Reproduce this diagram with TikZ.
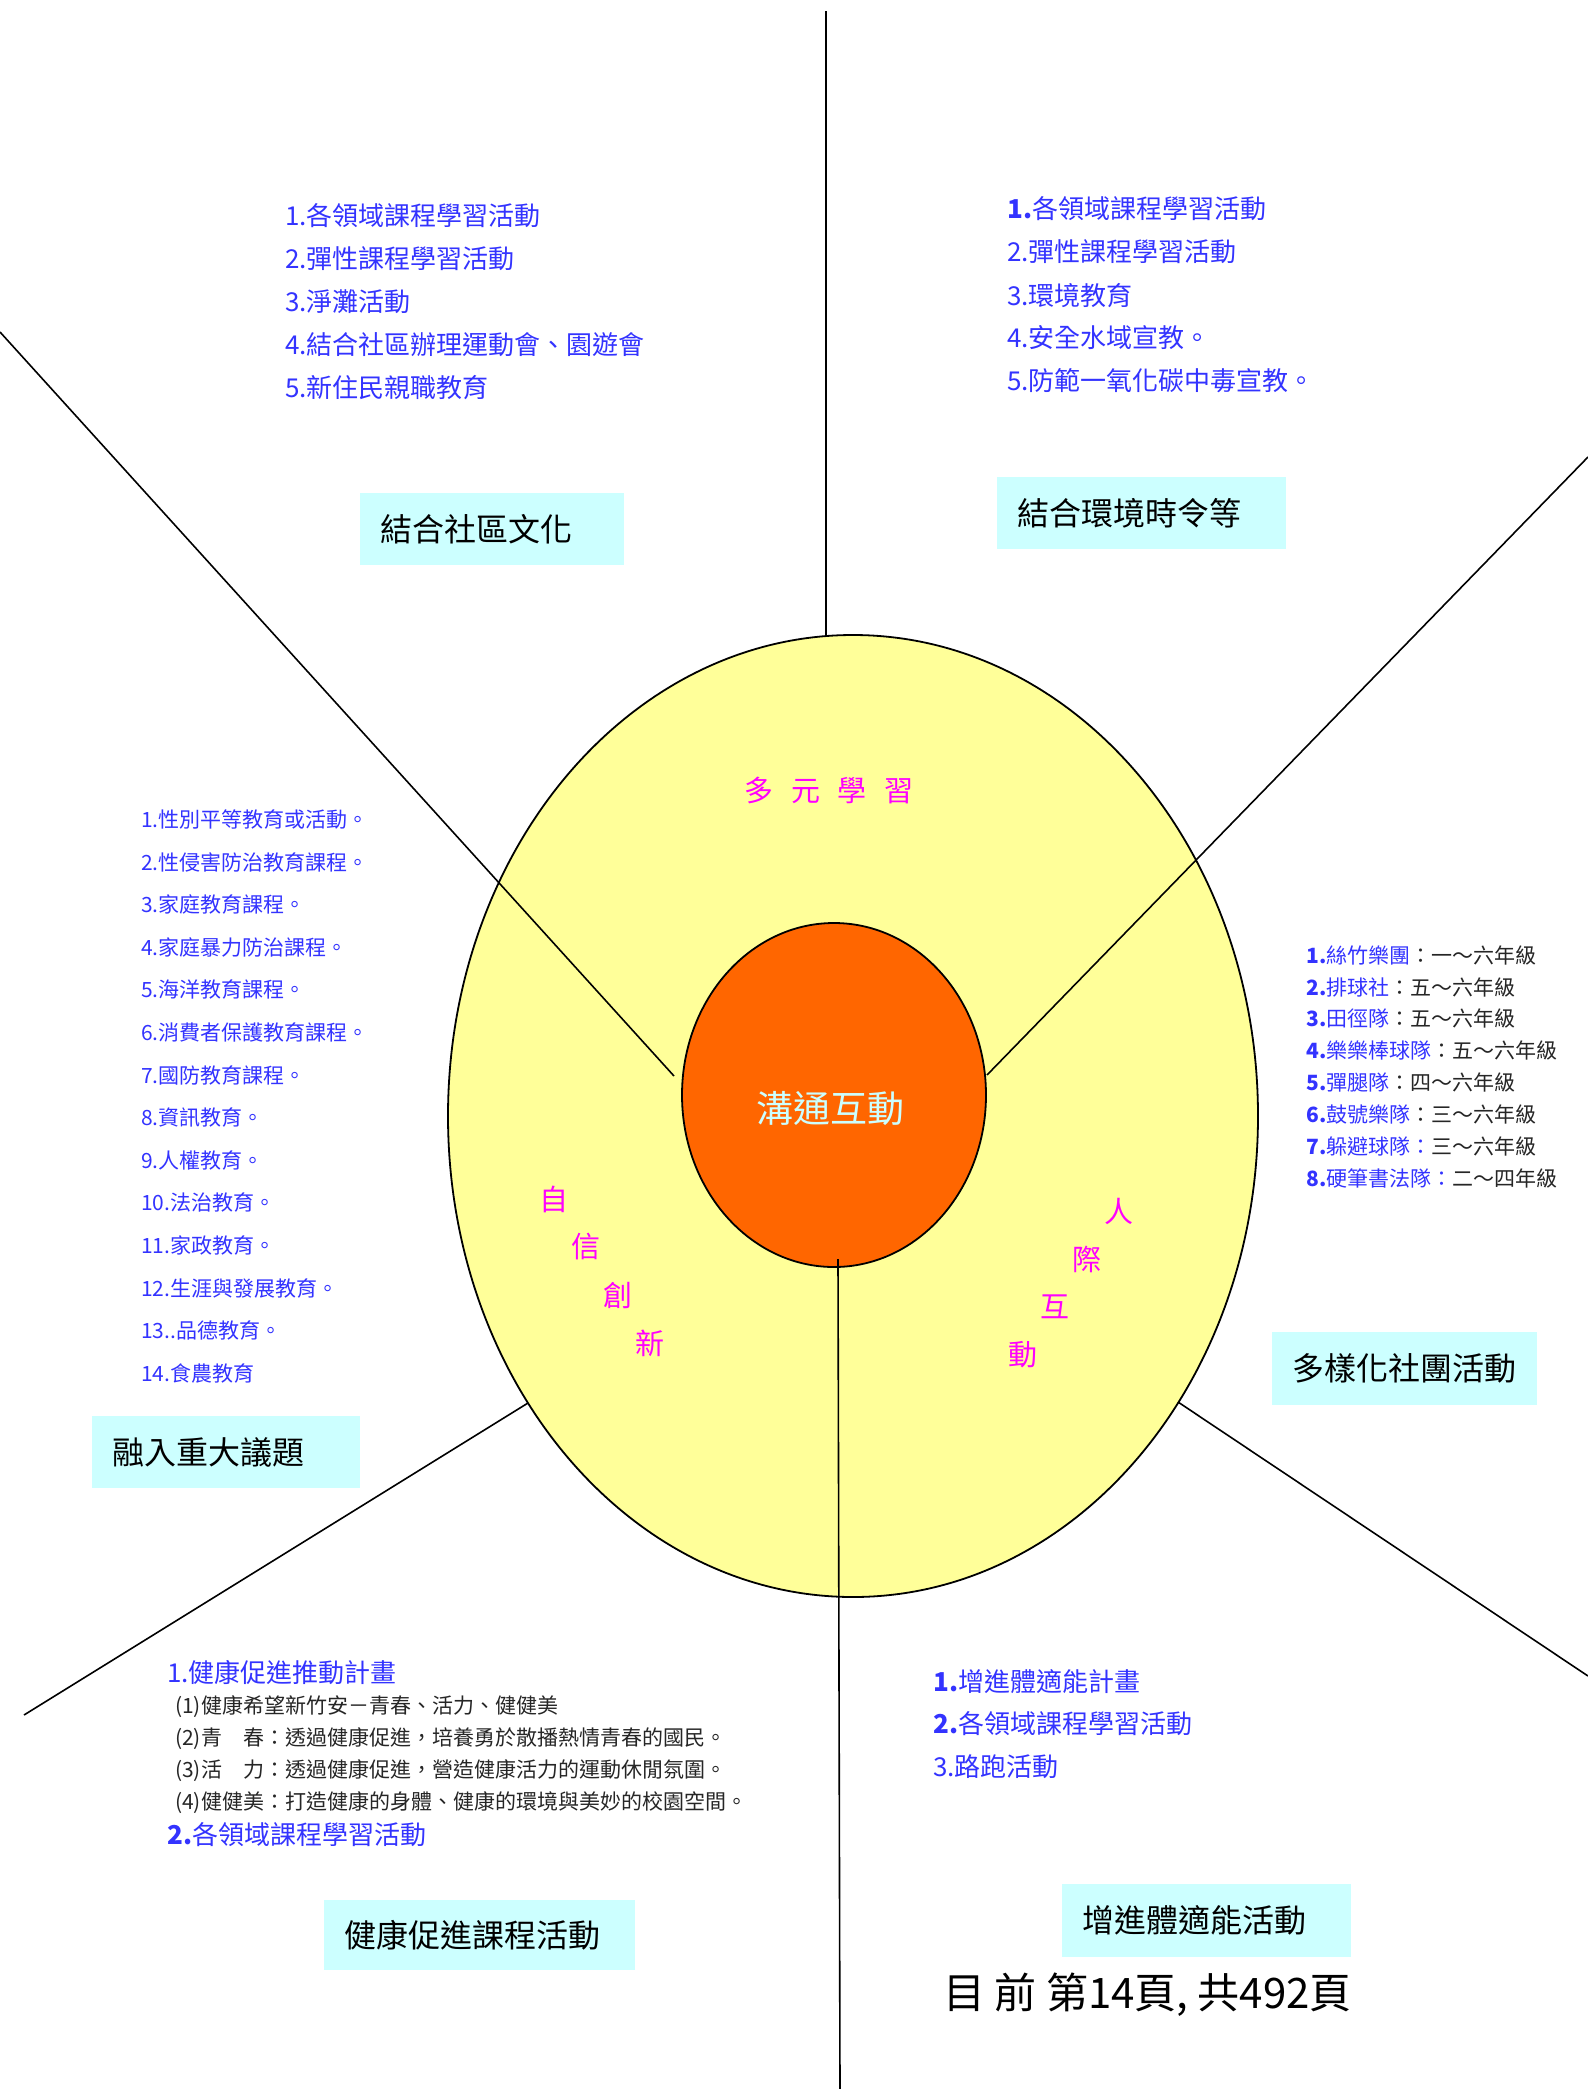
\documentclass[tikz,border=0pt]{standalone}
\usepackage{fontspec}
\usepackage{xcolor}
\usepackage{tikz}
\usetikzlibrary{shapes.geometric}
\newfontfamily\tcfont{Noto Sans CJK TC}
\definecolor{ringyellow}{HTML}{FFFF99}
\definecolor{coreorange}{HTML}{FF6600}
\definecolor{tagcyan}{HTML}{CCFFFF}
\definecolor{listblue}{HTML}{3333FF}
\definecolor{traitmag}{HTML}{FF00FF}
\tikzset{
  every node/.style={font=\tcfont},
  big item/.style={anchor=west, inner sep=0, text=listblue, font=\tcfont\fontsize{26}{30}\selectfont},
  small item/.style={anchor=west, inner sep=0, text=listblue, font=\tcfont\fontsize{21}{25}\selectfont},
  sub item/.style={small item, text=black!85},
  tag box/.style={anchor=west, fill=tagcyan, inner xsep=20, inner ysep=0, minimum height=72, align=left, font=\tcfont\fontsize{32}{36}\selectfont},
  trait/.style={text=traitmag, inner sep=0, font=\tcfont\fontsize{29}{32}\selectfont},
  spoke/.style={line width=1.6}
}

\begin{document}
\begin{tikzpicture}[x=1pt,y=-1pt]
  \path[use as bounding box, fill=white] (0,0) rectangle (1588,2089);
  % rings
  \node[ellipse, draw, line width=1.8, fill=ringyellow, inner sep=0, minimum width=810, minimum height=962] (ring) at (853,1116) {};
  \node[ellipse, draw, line width=1.8, fill=coreorange, inner sep=0, minimum width=304, minimum height=344] (core) at (834,1095) {};
  \node[text=tagcyan, inner sep=0, font=\tcfont\fontsize{37}{40}\selectfont] (hub) at (830,1108) {溝通互動};

  % spokes
  \coordinate (top out) at (826,11);
  \coordinate (top rim) at (826,636);
  \coordinate (nw out) at (0,332);
  \coordinate (nw in) at (674,1076);
  \coordinate (ne out) at (1588,457);
  \coordinate (ne in) at (987,1075);
  \coordinate (se rim) at (1178,1402);
  \coordinate (se out) at (1588,1676);
  \coordinate (sw rim) at (528,1403);
  \coordinate (sw out) at (24,1715);
  \coordinate (s in) at (838,1259);
  \coordinate (s out) at (840,2089);
  \draw[spoke] (top out) -- (top rim);
  \draw[spoke] (nw out) -- (nw in);
  \draw[spoke] (ne out) -- (ne in);
  \draw[spoke] (se rim) -- (se out);
  \draw[spoke] (sw rim) -- (sw out);
  \draw[spoke] (s in) -- (s out);

  % words in the ring
  \node[trait] (multi) at (829,790) {多\hspace{.6em}元\hspace{.6em}學\hspace{.6em}習};
  \node[trait] (self1) at (554,1199) {自};
  \node[trait] (self2) at (586,1247) {信};
  \node[trait] (self3) at (618,1295) {創};
  \node[trait] (self4) at (650,1343) {新};
  \node[trait] (peer1) at (1119,1211) {人};
  \node[trait] (peer2) at (1087,1259) {際};
  \node[trait] (peer3) at (1055,1307) {互};
  \node[trait] (peer4) at (1023,1355) {動};

  % tags
  \node[tag box, text width=224] (community) at (360,529) {結合社區文化};
  \node[tag box, text width=249] (season) at (997,513) {結合環境時令等};
  \node[tag box, text width=225, minimum height=73] (clubs) at (1272,1368) {多樣化社團活動};
  \node[tag box, text width=228] (issues) at (92,1452) {融入重大議題};
  \node[tag box, text width=271, minimum height=70] (health) at (324,1935) {健康促進課程活動};
  \node[tag box, text width=249, minimum height=73] (fitness) at (1062,1920) {增進體適能活動};

  % community list
  \node[big item] (com1) at (285,216) {1.各領域課程學習活動};
  \node[big item] (com2) at (285,259) {2.彈性課程學習活動};
  \node[big item] (com3) at (285,302) {3.淨灘活動};
  \node[big item] (com4) at (285,345) {4.結合社區辦理運動會、園遊會};
  \node[big item] (com5) at (285,388) {5.新住民親職教育};

  % season list
  \node[big item] (sea1) at (1007,209) {\textbf{1.}各領域課程學習活動};
  \node[big item] (sea2) at (1007,252) {2.彈性課程學習活動};
  \node[big item] (sea3) at (1007,296) {3.環境教育};
  \node[big item] (sea4) at (1007,338) {4.安全水域宣教。};
  \node[big item] (sea5) at (1007,381) {5.防範一氧化碳中毒宣教。};

  % issues list
  \node[small item] (iss1) at (141,819) {1.性別平等教育或活動。};
  \node[small item] (iss2) at (141,862) {2.性侵害防治教育課程。};
  \node[small item] (iss3) at (141,904) {3.家庭教育課程。};
  \node[small item] (iss4) at (141,947) {4.家庭暴力防治課程。};
  \node[small item] (iss5) at (141,989) {5.海洋教育課程。};
  \node[small item] (iss6) at (141,1032) {6.消費者保護教育課程。};
  \node[small item] (iss7) at (141,1075) {7.國防教育課程。};
  \node[small item] (iss8) at (141,1117) {8.資訊教育。};
  \node[small item] (iss9) at (141,1160) {9.人權教育。};
  \node[small item] (iss10) at (141,1202) {10.法治教育。};
  \node[small item] (iss11) at (141,1245) {11.家政教育。};
  \node[small item] (iss12) at (141,1288) {12.生涯與發展教育。};
  \node[small item] (iss13) at (141,1330) {13..品德教育。};
  \node[small item] (iss14) at (141,1373) {14.食農教育};

  % clubs list
  \node[small item] (club1) at (1306,955) {\textbf{1.}絲竹樂團\textcolor{black!85}{：一～六年級}};
  \node[small item] (club2) at (1306,987) {\textbf{2.}排球社\textcolor{black!85}{：五～六年級}};
  \node[small item] (club3) at (1306,1018) {\textbf{3.}田徑隊\textcolor{black!85}{：五～六年級}};
  \node[small item] (club4) at (1306,1050) {\textbf{4.}樂樂棒球隊\textcolor{black!85}{：五～六年級}};
  \node[small item] (club5) at (1306,1082) {\textbf{5.}彈腿隊\textcolor{black!85}{：四～六年級}};
  \node[small item] (club6) at (1306,1114) {\textbf{6.}鼓號樂隊\textcolor{black!85}{：三～六年級}};
  \node[small item] (club7) at (1306,1146) {\textbf{7.}躲避球隊：\textcolor{black!85}{三～六年級}};
  \node[small item] (club8) at (1306,1178) {\textbf{8.}硬筆書法隊：\textcolor{black!85}{二～四年級}};

  % health list
  \node[big item] (hea1) at (167,1673) {1.健康促進推動計畫};
  \node[sub item] (hea11) at (175,1707) {(1)健康希望新竹安－青春、活力、健健美};
  \node[sub item] (hea12) at (175,1739) {(2)青　春：透過健康促進，培養勇於散播熱情青春的國民。};
  \node[sub item] (hea13) at (175,1771) {(3)活　力：透過健康促進，營造健康活力的運動休閒氛圍。};
  \node[sub item] (hea14) at (175,1803) {(4)健健美：打造健康的身體、健康的環境與美妙的校園空間。};
  \node[big item] (hea2) at (167,1835) {\textbf{2.}各領域課程學習活動};

  % fitness list
  \node[big item] (fit1) at (933,1682) {\textbf{1.}增進體適能計畫};
  \node[big item] (fit2) at (933,1724) {\textbf{2.}各領域課程學習活動};
  \node[big item] (fit3) at (933,1767) {3.路跑活動};

  % page count
  \node[anchor=west, inner sep=0, font=\tcfont\fontsize{42}{46}\selectfont] (pages) at (943,1995) {目 前 第14頁, 共492頁};
\end{tikzpicture}
\end{document}
